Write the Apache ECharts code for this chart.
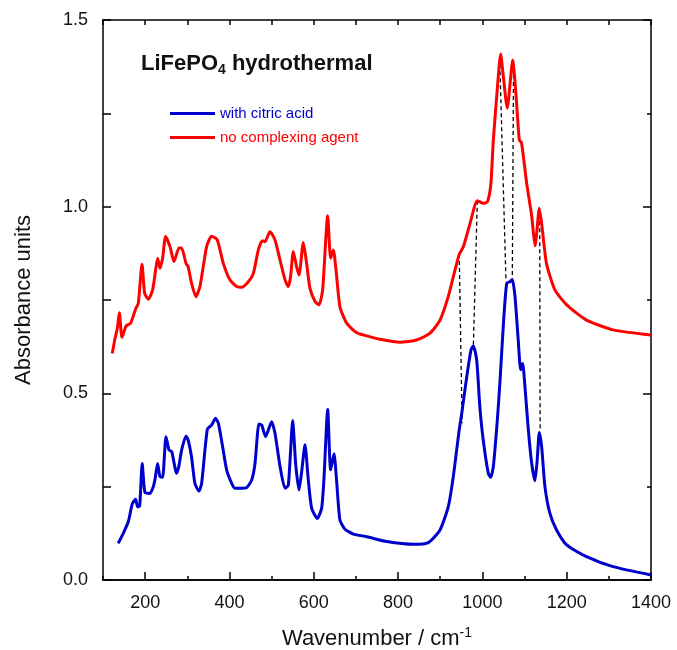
<!DOCTYPE html>
<html>
<head>
<meta charset="utf-8">
<script src="https://cdn.jsdelivr.net/npm/echarts@6/dist/echarts.min.js"></script>
<style>
  html, body { margin: 0; padding: 0; background: #fff; }
  #chart { width: 677px; height: 650px; }
</style>
</head>
<body>
<div id="chart"></div>
<script>
// spectra (wavenumber, absorbance)
const redX = [122, 128.5, 134, 138.7, 145, 154.6, 165.6, 178, 183.8, 192.5, 198.8, 207.5, 217.7, 224.8, 229.6, 235, 241.4, 248.5, 259, 268.4, 280.3, 286.5, 297, 302, 310, 320.4, 330, 345.8, 357.6, 371, 385.4, 401, 417, 429, 444.8, 456.6, 468.5, 478, 484.3, 496, 508, 520, 531.8, 539.7, 545, 551.5, 559.3, 565, 575.2, 583, 591, 603, 612.5, 621, 633, 640, 646.5, 652.8, 662, 678, 702, 725.6, 757, 804.6, 844, 875.8, 899.5, 919, 935, 945.4, 955, 970.7, 988, 1002, 1012, 1020, 1026, 1034, 1043.4, 1049.7, 1059, 1072, 1080, 1087.6, 1093, 1105, 1117, 1122, 1125.5, 1129, 1135, 1140.6, 1152, 1172, 1200, 1247, 1310, 1400];
const redY = [0.607, 0.647, 0.674, 0.716, 0.650, 0.680, 0.688, 0.728, 0.741, 0.846, 0.768, 0.752, 0.777, 0.830, 0.862, 0.835, 0.862, 0.920, 0.893, 0.853, 0.889, 0.889, 0.848, 0.839, 0.795, 0.759, 0.786, 0.893, 0.921, 0.911, 0.848, 0.804, 0.786, 0.784, 0.799, 0.821, 0.884, 0.909, 0.906, 0.933, 0.911, 0.857, 0.804, 0.786, 0.813, 0.880, 0.839, 0.817, 0.904, 0.848, 0.781, 0.746, 0.737, 0.777, 0.976, 0.862, 0.884, 0.830, 0.732, 0.688, 0.662, 0.654, 0.645, 0.637, 0.643, 0.661, 0.696, 0.759, 0.830, 0.873, 0.893, 0.955, 1.016, 1.009, 1.013, 1.060, 1.179, 1.295, 1.409, 1.348, 1.264, 1.393, 1.295, 1.179, 1.170, 1.063, 0.975, 0.920, 0.895, 0.930, 0.996, 0.955, 0.848, 0.777, 0.737, 0.696, 0.670, 0.656];

const blueX = [136, 148, 160, 169.5, 177.4, 182, 187, 193, 199.6, 211.5, 219.3, 223.4, 229.5, 235, 241.4, 249.4, 256.6, 263, 274.6, 280, 286.5, 297, 302, 310, 318, 327.6, 334, 347.5, 357.6, 367, 373.6, 383.8, 393.3, 405.3, 413, 425, 441, 452.8, 460.6, 470, 476.5, 485.8, 500, 508, 520, 531.8, 539.7, 550, 557, 565, 571.3, 579.2, 587, 595, 608.5, 618.6, 624, 633, 640, 648, 654, 662, 674, 694, 725.6, 773, 836, 871.8, 899.5, 919, 931, 945, 951, 963, 973, 978.6, 986.5, 994, 1002, 1014, 1019.6, 1026, 1035.5, 1042, 1050, 1057.7, 1065.6, 1071, 1077.4, 1085, 1090.8, 1095.5, 1101, 1109, 1117, 1124.7, 1130, 1135, 1140.6, 1148.4, 1160, 1176, 1200, 1247, 1310, 1400];
const blueY = [0.098, 0.125, 0.156, 0.204, 0.216, 0.196, 0.198, 0.312, 0.234, 0.232, 0.250, 0.270, 0.312, 0.277, 0.275, 0.384, 0.348, 0.344, 0.286, 0.305, 0.348, 0.386, 0.375, 0.330, 0.259, 0.238, 0.259, 0.404, 0.415, 0.433, 0.420, 0.357, 0.295, 0.259, 0.246, 0.246, 0.248, 0.268, 0.312, 0.418, 0.415, 0.384, 0.424, 0.393, 0.304, 0.246, 0.254, 0.427, 0.312, 0.241, 0.290, 0.362, 0.268, 0.192, 0.165, 0.192, 0.268, 0.457, 0.295, 0.338, 0.268, 0.161, 0.136, 0.123, 0.116, 0.103, 0.0955, 0.100, 0.134, 0.196, 0.277, 0.402, 0.446, 0.545, 0.616, 0.627, 0.589, 0.464, 0.375, 0.286, 0.275, 0.304, 0.429, 0.536, 0.688, 0.795, 0.799, 0.805, 0.759, 0.643, 0.563, 0.580, 0.518, 0.402, 0.312, 0.266, 0.321, 0.395, 0.357, 0.250, 0.179, 0.134, 0.094, 0.0625, 0.0357, 0.0134];

// dashed guide lines: top end on red curve, bottom end on blue curve
const dashTopX = [945, 988, 1041, 1074, 1136];
const dashTopY = [0.873, 1.016, 1.40, 1.39, 0.98];
const dashBotX = [952, 978.6, 1056, 1071, 1137];
const dashBotY = [0.42, 0.627, 0.80, 0.81, 0.40];

const xMajor = [200, 400, 600, 800, 1000, 1200, 1400];

const FONT = "'Liberation Sans', Arial, sans-serif";
const RED = "#ff0000";
const BLUE = "#0000cc";

const pairs = (xs, ys) => xs.map((x, i) => [x, ys[i]]);

let chart = echarts.init(document.getElementById("chart"));

const dashSeries = dashTopX.map((x, i) => ({
  type: "line",
  name: "guide" + i,
  data: [[x, dashTopY[i]], [dashBotX[i], dashBotY[i]]],
  showSymbol: false,
  silent: true,
  z: 1,
  lineStyle: { color: "#000", width: 1.3, type: [4, 3] },
}));

const axisLine = { show: true, onZero: false, lineStyle: { color: "#000", width: 1.5 } };

const option = {
  animation: false,
  textStyle: { fontFamily: FONT },
  title: {
    text: "{b|LiFePO}{s|4}{b| hydrothermal}",
    left: 141,
    top: 50,
    padding: 0,
    textStyle: {
      rich: {
        b: { fontFamily: FONT, fontSize: 22, fontWeight: "bold", color: "#111", lineHeight: 27 },
        s: { fontFamily: FONT, fontSize: 14, fontWeight: "bold", color: "#111", verticalAlign: "bottom", lineHeight: 14 },
      },
    },
  },
  legend: {
    orient: "vertical",
    left: 170,
    top: 106,
    padding: 0,
    icon: "rect",
    itemWidth: 45,
    itemHeight: 3,
    itemGap: 9,
    textStyle: { fontFamily: FONT, fontSize: 15 },
    data: [
      { name: "with citric acid", textStyle: { color: BLUE } },
      { name: "no complexing agent", textStyle: { color: RED } },
    ],
  },
  grid: { left: 103, right: 26, top: 20, bottom: 70, containLabel: false, outerBoundsMode: "none" },
  xAxis: [
    {
      type: "value", position: "bottom", min: 100, max: 1400, interval: 100,
      axisLine,
      axisTick: { inside: true, length: 4, lineStyle: { color: "#000", width: 1.5 } },
      axisLabel: { show: false },
      splitLine: { show: false },
    },
    {
      type: "value", position: "bottom", min: 100, max: 1400, interval: 100,
      axisLine,
      axisTick: { inside: true, length: 8, customValues: xMajor, lineStyle: { color: "#000", width: 1.5 } },
      axisLabel: {
        customValues: xMajor, color: "#111", fontSize: 18, margin: 14, fontFamily: FONT,
        formatter: (v) => String(v),
      },
      splitLine: { show: false },
      name: "{a|Wavenumber / cm}{s|-1}",
      nameLocation: "middle",
      nameGap: 46,
      nameTextStyle: {
        rich: {
          a: { fontFamily: FONT, fontSize: 22, color: "#111", lineHeight: 26 },
          s: { fontFamily: FONT, fontSize: 14, color: "#111", verticalAlign: "top", lineHeight: 14 },
        },
      },
    },
    {
      type: "value", position: "top", min: 100, max: 1400, interval: 100,
      axisLine,
      axisTick: { inside: true, length: 5, lineStyle: { color: "#000", width: 1.5 } },
      axisLabel: { show: false },
      splitLine: { show: false },
    },
  ],
  yAxis: [
    {
      type: "value", position: "left", min: 0, max: 1.5, interval: 0.25,
      axisLine,
      axisTick: { inside: true, length: 8, lineStyle: { color: "#000", width: 1.5 } },
      axisLabel: {
        color: "#111", fontSize: 18, margin: 15, fontFamily: FONT,
        formatter: (v) => (Math.abs(v * 2 - Math.round(v * 2)) < 1e-6 ? v.toFixed(1) : ""),
      },
      splitLine: { show: false },
      name: "Absorbance units",
      nameLocation: "middle",
      nameGap: 68,
      nameTextStyle: { fontFamily: FONT, fontSize: 22, color: "#111" },
    },
    {
      type: "value", position: "right", min: 0, max: 1.5, interval: 0.5,
      axisLine,
      axisTick: { inside: true, length: 8, lineStyle: { color: "#000", width: 1.5 } },
      minorTick: { show: true, splitNumber: 2, length: 4, lineStyle: { color: "#000", width: 1.5 } },
      axisLabel: { show: false },
      splitLine: { show: false },
    },
  ],
  series: [
    {
      type: "line",
      name: "with citric acid",
      data: pairs(blueX, blueY),
      showSymbol: false,
      smooth: 0.2,
      color: BLUE,
      lineStyle: { color: BLUE, width: 3 },
      z: 3,
    },
    {
      type: "line",
      name: "no complexing agent",
      data: pairs(redX, redY),
      showSymbol: false,
      smooth: 0.2,
      color: RED,
      lineStyle: { color: RED, width: 3 },
      z: 3,
    },
    ...dashSeries,
  ],
};

chart.setOption(option);
</script>
</body>
</html>
